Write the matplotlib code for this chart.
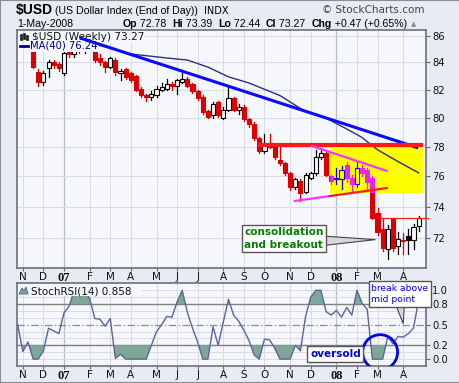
import numpy as np
import matplotlib
matplotlib.use('Agg')
import matplotlib.pyplot as plt
from matplotlib.patches import Rectangle, Polygon, Ellipse
from matplotlib.ticker import NullLocator

# weekly bars, week 0 = first week of Jan 2007
first_week = -6
opens = [84.9, 83.3, 82.6, 83.6, 84.0, 83.9, 83.2, 84.8, 84.6, 85.0, 84.9, 85.2, 85.1, 84.3, 84.0, 83.7,
         84.2, 83.2, 83.5, 83.2, 83.0, 82.1, 81.6, 81.5, 81.6, 82.0, 82.1, 82.4, 82.3, 82.6, 82.8, 82.4,
         81.9, 81.5, 80.5, 80.2, 81.1, 80.0, 80.6, 81.4, 80.6, 80.8, 79.9, 79.6, 78.6, 77.7, 78.3, 78.1,
         77.1, 76.9, 76.2, 75.3, 75.7, 75.0, 75.9, 76.2, 77.3, 77.6, 76.0, 75.8, 75.8, 76.8, 75.9, 75.5,
         76.6, 76.4, 75.9, 73.6, 72.6, 71.3, 73.2, 71.5, 71.9, 72.1, 71.9, 72.78]
highs = [85.1, 83.5, 83.4, 84.2, 84.2, 84.0, 84.8, 85.1, 85.3, 85.3, 85.4, 85.4, 85.2, 84.6, 84.1, 84.4,
         84.3, 83.5, 83.6, 83.3, 83.1, 82.2, 81.7, 81.9, 82.3, 82.5, 82.8, 82.6, 82.8, 83.2, 82.9, 82.5,
         82.0, 81.6, 80.6, 81.1, 81.2, 80.8, 82.3, 81.5, 81.0, 80.9, 80.0, 79.7, 78.7, 78.9, 78.9, 78.2,
         78.0, 77.0, 76.3, 75.9, 75.8, 76.2, 76.3, 77.8, 77.9, 77.7, 76.1, 76.6, 76.7, 77.0, 76.1, 77.0,
         76.8, 76.6, 76.0, 73.9, 73.2, 72.8, 73.3, 72.4, 72.3, 72.6, 72.9, 73.39]
lows = [83.6, 82.3, 82.35, 82.9, 83.6, 83.4, 83.1, 84.4, 84.4, 84.7, 84.7, 84.9, 84.0, 83.8, 83.3, 83.6,
        83.1, 82.7, 82.8, 82.6, 81.9, 81.5, 81.2, 81.3, 81.5, 81.9, 82.0, 82.0, 81.7, 82.5, 82.2, 81.8,
        81.3, 80.3, 80.0, 80.0, 80.1, 79.9, 80.5, 80.5, 80.3, 79.8, 79.4, 78.5, 77.6, 77.6, 77.9, 77.2,
        76.8, 76.1, 75.1, 75.2, 74.4, 74.9, 75.8, 76.1, 77.2, 76.0, 75.5, 75.5, 75.2, 75.6, 75.0, 75.3,
        76.0, 75.2, 73.2, 72.2, 71.2, 70.7, 71.2, 71.0, 71.0, 71.0, 71.3, 72.44]
closes = [83.7, 82.6, 83.2, 84.0, 83.8, 83.6, 84.7, 84.6, 85.0, 84.9, 85.2, 85.1, 84.2, 84.0, 83.7, 84.3,
          83.3, 83.35, 82.9, 82.7, 82.0, 81.6, 81.5, 81.7, 82.1, 82.2, 82.4, 82.3, 82.7, 82.8, 82.3, 81.9,
          81.4, 80.4, 80.1, 81.0, 80.2, 80.6, 81.4, 80.6, 80.8, 79.9, 79.6, 78.6, 77.7, 78.3, 78.0, 77.3,
          76.9, 76.2, 75.3, 75.8, 74.9, 76.1, 76.2, 77.3, 77.6, 76.1, 75.7, 75.9, 76.4, 75.9, 75.5, 76.6,
          76.2, 75.6, 73.3, 72.4, 71.4, 72.6, 71.4, 71.95, 71.8, 71.9, 72.7, 73.27]

# MA(40)
ma_weeks = [5, 9, 13, 20, 24, 28, 32, 36, 42, 47, 51, 57, 58, 61, 65, 69]
ma_values = [85.45, 85.07, 84.63, 84.33, 84.18, 83.66, 82.95, 82.5, 81.6, 80.45, 80.0, 78.85, 78.64, 77.8, 77.0, 76.24]

# StochRSI(14), weekly
stoch_first_week = -9
stoch_rsi = [0.50, 0.11, 0.25, 0.0, 0.0, 0.12, 0.45, 0.41, 0.37, 0.67, 0.77, 1.0, 1.0, 1.0, 0.88,
             0.59, 0.58, 0.48, 0.59, 0.01, 0.07, 0.0, 0.0, 0.0, 0.0, 0.0, 0.2, 0.40, 0.5, 0.62,
             0.61, 0.83, 1.0, 0.68, 0.45, 0.25, 0.0, 0.0, 0.47, 0.2, 0.54, 0.87, 0.64, 0.55, 0.42,
             0.27, 0.06, 0.0, 0.29, 0.28, 0.16, 0.0, 0.0, 0.0, 0.2, 0.12, 0.62, 0.9, 1.0, 1.0,
             0.69, 0.64, 0.71, 0.61, 0.75, 0.64, 1.0, 0.81, 0.72, 0.0, 0.0, 0.0, 0.33, 0.22, 0.33,
             0.32, 0.37, 0.45, 0.858]

month_weeks = [-8, -4, 0, 5, 9, 13, 18, 22, 26, 31, 35, 39, 44, 48, 53, 57, 61, 66]
month_labels = ['N', 'D', '07', 'F', 'M', 'A', 'M', 'J', 'J', 'A', 'S', 'O', 'N', 'D', '08', 'F', 'M', 'A']
price_ticks = [72, 74, 76, 78, 80, 82, 84, 86]
stoch_ticks = [0.0, 0.2, 0.5, 0.8, 1.0]

# chart annotations (week, price)
trend_weeks, trend_prices = [3.1, 68.9], [85.83, 77.93]
resist_weeks, resist_price = [37.7, 69.8], 78.13
upper_weeks, upper_prices = [48.2, 62.8], [78.06, 76.37]
lower_weeks, lower_prices = [44.9, 62.8], [74.38, 75.23]
box_weeks, box_prices = [51.75, 69.85], [74.9, 77.93]
last_weeks, last_price = [61.7, 70.8], 73.3

W, H = 460, 383
PANEL = '#f6f7fb'
GRID = '#d9dce5'
RED = '#dd0000'


def fpx(x, y):
    return x / W, 1 - y / H


def draw_candles(ax, up_col, down_col, hollow_fc, z, clip=None):
    arts = []
    for i in range(len(opens)):
        k = first_week + i
        o, h, l, c = opens[i], highs[i], lows[i], closes[i]
        if i == 0:
            down = c < o
        else:
            down = c < closes[i - 1]
        col = down_col if down else up_col
        lo_b, hi_b = min(o, c), max(o, c)
        arts += ax.plot([k, k], [l, lo_b], color=col, lw=0.9, zorder=z)
        arts += ax.plot([k, k], [hi_b, h], color=col, lw=0.9, zorder=z)
        fc = hollow_fc if c > o else col
        r = Rectangle((k - 0.4, lo_b), 0.8, hi_b - lo_b, fc=fc, ec=col, lw=0.8, zorder=z + 0.1)
        ax.add_patch(r)
        arts.append(r)
    if clip is not None:
        for a in arts:
            a.set_clip_path(clip)


def style_axes(ax, ticks, ticklabels):
    ax.set_facecolor(PANEL)
    ax.set_xlim(-9.14, 70.43)
    for s in ax.spines.values():
        s.set_color('#6b6f80')
        s.set_linewidth(1.2)
    for k, lab in zip(month_weeks, month_labels):
        bold = lab in ('07', '08')
        ax.axvline(k, color='#b9bdc9' if bold else GRID, lw=0.9 if bold else 0.7, zorder=0)
    ax.set_xticks(month_weeks)
    ax.set_xticklabels(month_labels)
    for t, lab in zip(ax.get_xticklabels(), month_labels):
        if lab in ('07', '08'):
            t.set_fontfamily('Liberation Serif')
            t.set_fontweight('bold')
            t.set_fontsize(9)
        else:
            t.set_fontsize(7.5)
    ax.tick_params(axis='x', length=2, pad=1.2, color='#666', labelcolor='#111')
    ax.yaxis.tick_right()
    ax.set_yticks(ticks)
    ax.set_yticklabels(ticklabels)
    ax.yaxis.set_minor_locator(NullLocator())
    ax.tick_params(axis='y', length=3, pad=1.5, labelsize=7.2, color='#666', labelcolor='#111')


fig = plt.figure(figsize=(W / 100, H / 100), dpi=100)
fig.patch.set_facecolor('#e8ebf2')
fig.patches.append(Rectangle((0, 0), 1, 1, transform=fig.transFigure, fill=False, ec='#8a8d99', lw=1.5))

ax1 = fig.add_axes([17 / W, 1 - 268 / H, 409 / W, 238 / H])
ax2 = fig.add_axes([17 / W, 1 - 366 / H, 409 / W, 83 / H])

# price panel
ax1.set_yscale('log')
ax1.set_ylim(70.13, 86.43)
style_axes(ax1, price_ticks, [str(p) for p in price_ticks])
for p in price_ticks:
    ax1.axhline(p, color=GRID, lw=0.8, zorder=0)

draw_candles(ax1, 'black', RED, PANEL, 3)
box = Rectangle((box_weeks[0], box_prices[0]), box_weeks[1] - box_weeks[0], box_prices[1] - box_prices[0],
                fc='#ffff00', ec='none', zorder=4)
ax1.add_patch(box)
draw_candles(ax1, '#0000ff', '#ee22ee', 'none', 5, clip=box)

ax1.plot(ma_weeks, ma_values, color='#2e2e80', lw=1.0, zorder=6)
ax1.plot(trend_weeks, trend_prices, color='#0a0aff', lw=2.2, zorder=7, solid_capstyle='butt')
ax1.plot(resist_weeks, [resist_price] * 2, color='#ff1a1a', lw=3, zorder=7, solid_capstyle='butt')
ax1.plot(upper_weeks, upper_prices, color='#ff33ff', lw=1.6, zorder=7)
# lower triangle line: magenta, red inside the highlight box
lw_mid = lower_prices[0] + (lower_prices[1] - lower_prices[0]) * (box_weeks[0] - lower_weeks[0]) / (lower_weeks[1] - lower_weeks[0])
ax1.plot([lower_weeks[0], box_weeks[0]], [lower_prices[0], lw_mid], color='#ff33ff', lw=1.6, zorder=7)
ax1.plot([box_weeks[0], lower_weeks[1]], [lw_mid, lower_prices[1]], color='#ff1a1a', lw=1.6, zorder=7)
ax1.plot(last_weeks, [last_price] * 2, color='#ff1a1a', lw=0.9, zorder=7, clip_on=False)

# consolidation callout
ax1.add_patch(Polygon([[51.0, 72.11], [51.0, 71.55], [60.6, 71.9]], closed=True,
                      fc='#d8d8d8', ec='#444444', lw=0.8, zorder=9))
ax1.text(35.1, 72.69, 'consolidation\nand breakout', fontsize=7.5, fontweight='bold', color='#008000',
         ha='left', va='top', linespacing=1.3, zorder=10,
         bbox=dict(boxstyle='square,pad=0.25', fc='white', ec='#555555', lw=1))

# price legend: covers the bars, but the trend line is drawn over it
ax1.text(*fpx(32, 40), '$USD (Weekly) 73.27', transform=fig.transFigure, fontsize=7.6, va='baseline',
         color='#111', zorder=6.5, bbox=dict(boxstyle='square,pad=0.1', fc=PANEL, ec='none'))
ax1.text(*fpx(30, 49), 'MA(40) 76.24', transform=fig.transFigure, fontsize=7.2, va='baseline',
         color='#000080', zorder=6.5, bbox=dict(boxstyle='square,pad=0.1', fc=PANEL, ec='none'))
fig.lines.append(plt.Line2D([20 / W, 28 / W], [1 - 46 / H] * 2, transform=fig.transFigure, color='#000080', lw=2))
for xx, y0, y1 in [(21, 34, 40), (24, 33, 39), (27, 35, 40)]:
    fig.patches.append(Rectangle(fpx(xx - 1, y1), 2 / W, (y1 - y0) / H, transform=fig.transFigure,
                                 fc='#222', ec='#222', lw=0.5))

# StochRSI panel
ax2.set_ylim(-0.1, 1.106)
style_axes(ax2, stoch_ticks, ['%.1f' % v for v in stoch_ticks])
for v in [0.0, 0.1, 0.3, 0.4, 0.6, 0.7, 0.9, 1.0]:
    ax2.axhline(v, color=GRID, lw=0.7, zorder=0)
ax2.axhline(0.8, color='#808080', lw=1, zorder=1)
ax2.axhline(0.2, color='#808080', lw=1, zorder=1)
ax2.axhline(0.5, color='#8c8c8c', lw=0.9, dashes=(6, 2, 1, 2), zorder=1)

sx = np.arange(len(stoch_rsi)) + stoch_first_week
sv = np.array(stoch_rsi)
ax2.fill_between(sx, 0.8, sv, where=sv >= 0.8, interpolate=True, color='#7ea797', lw=0, zorder=2)
ax2.fill_between(sx, sv, 0.2, where=sv <= 0.2, interpolate=True, color='#7ea797', lw=0, zorder=2)
ax2.plot(sx, sv, color='#5b649e', lw=1.0, zorder=3)

ax2.add_patch(Ellipse((61.5, 0.10), 6.8, 0.51, fill=False, ec='#0000ff', lw=2, zorder=9))
ax2.text(52.8, 0.073, 'oversold', fontsize=7.5, fontweight='bold', color='#0000dd', ha='center', va='center',
         zorder=10, bbox=dict(boxstyle='square,pad=0.25', fc='white', ec='#555555', lw=1))
ax2.add_patch(Polygon([[64.6, 0.78], [66.2, 0.78], [66.0, 0.515]], closed=True,
                      fc='#d8d8d8', ec='#444444', lw=0.8, zorder=9, clip_on=False))
ax2.text(59.8, 1.092, 'break above\nmid point', fontsize=6.6, color='#0000ee', ha='left', va='top',
         linespacing=1.35, zorder=10, clip_on=False,
         bbox=dict(boxstyle='square,pad=0.3', fc='white', ec='#555555', lw=1))

# stoch legend over the plot
fig.patches.append(Rectangle(fpx(18, 296), 124 / W, 12.5 / H, transform=fig.transFigure, fc=PANEL, ec='none'))
fig.patches.append(Polygon([fpx(19, 294), fpx(22, 288), fpx(24, 291), fpx(26, 287), fpx(28, 294)],
                           closed=True, transform=fig.transFigure, fc='#7ea797', ec='#5b649e', lw=0.7))
fig.text(*fpx(31, 294), 'StochRSI(14) 0.858', fontsize=7.5, va='baseline', color='#111')

# header
fig.text(*fpx(16, 14), '$USD', fontsize=10, fontweight='bold', family='Liberation Sans', va='baseline')
fig.text(*fpx(55, 14), '(US Dollar Index (End of Day))', fontsize=7.6, family='Liberation Sans', va='baseline')
fig.text(*fpx(204, 14), 'INDX', fontsize=7, va='baseline')
fig.text(*fpx(425, 13), '\u00a9 StockCharts.com', fontsize=7.5, ha='right', va='baseline', color='#444')
fig.text(*fpx(17, 27), '1-May-2008', fontsize=7.6, family='Liberation Sans', va='baseline')

row = [('Op', True), (' 72.78  ', False), ('Hi', True), (' 73.39  ', False), ('Lo', True), (' 72.44  ', False),
       ('Cl', True), (' 73.27  ', False), ('Chg', True), (' +0.47 (+0.65%)', False)]
renderer = fig.canvas.get_renderer()
x = 123
for s, b in row:
    t = fig.text(*fpx(x, 27), s, fontsize=7.6, family='Liberation Sans', fontweight='bold' if b else 'normal',
                 va='baseline')
    x += t.get_window_extent(renderer=renderer).width
fig.text(*fpx(x + 4, 26), '\u25b2', fontsize=5, color='#888', va='baseline')

plt.savefig('out.png', dpi=100, facecolor=fig.get_facecolor())
